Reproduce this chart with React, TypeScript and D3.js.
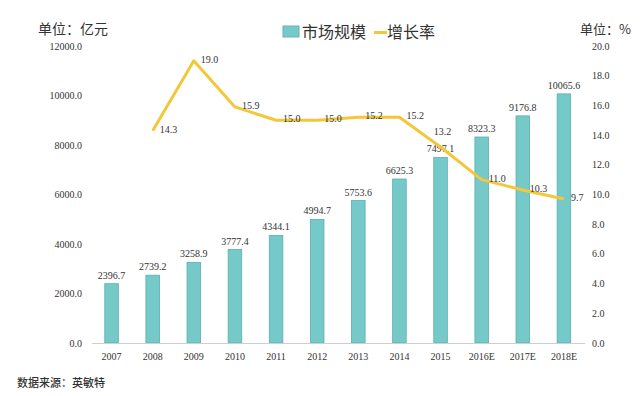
import React from "react";
import * as d3 from "d3";

const categories = ["2007", "2008", "2009", "2010", "2011", "2012", "2013", "2014", "2015", "2016E", "2017E", "2018E"];
const marketSize = [2396.7, 2739.2, 3258.9, 3777.4, 4344.1, 4994.7, 5753.6, 6625.3, 7497.1, 8323.3, 9176.8, 10065.6];
const growthRate: (number | null)[] = [null, 14.3, 19.0, 15.9, 15.0, 15.0, 15.2, 15.2, 13.2, 11.0, 10.3, 9.7];
const leftTicks = [0, 2000, 4000, 6000, 8000, 10000, 12000];
const rightTicks = [0, 2, 4, 6, 8, 10, 12, 14, 16, 18, 20];

const W = 640, H = 396;
const serif = "Liberation Serif, DejaVu Serif, serif";
const cjk = "Noto Sans CJK SC, sans-serif";

export default function App() {
  const x = d3.scaleBand<string>().domain(categories).range([91, 584.5]).paddingInner(0.67).paddingOuter(0.335);
  const yL = d3.scaleLinear().domain([0, 12000]).range([343, 46]);
  const yR = d3.scaleLinear().domain([0, 20]).range([343, 46]);
  const cx = (c: string) => (x(c) as number) + x.bandwidth() / 2;
  const pts = categories.map((c, i) => ({ c, v: growthRate[i] })).filter(d => d.v != null) as { c: string; v: number }[];
  const line = d3.line<{ c: string; v: number }>().x(d => cx(d.c)).y(d => yR(d.v));

  return (
    <svg width={W} height={H} style={{ position: "absolute", left: 0, top: 0, background: "#fff" }}>
      <rect width={W} height={H} fill="#fff" />
      <text x={38} y={34} fontFamily={cjk} fontSize={14} fill="#333">单位：亿元</text>
      <text x={580} y={34} fontFamily={cjk} fontSize={13} fill="#333">单位：%</text>
      {/* legend */}
      <rect x={283} y={26} width={16} height={11} fill="#76c9c9" stroke="#66b6b6" />
      <text x={302} y={38} fontFamily={cjk} fontSize={16} fill="#333">市场规模</text>
      <line x1={374} x2={387} y1={32.5} y2={32.5} stroke="#f2c73a" strokeWidth={3} />
      <text x={387} y={38} fontFamily={cjk} fontSize={16} fill="#333">增长率</text>
      {/* left ticks */}
      {leftTicks.map(t => (
        <text key={"l" + t} x={82} y={yL(t) + 3.5} textAnchor="end" fontFamily={serif} fontSize={10} fill="#333">{t.toFixed(1)}</text>
      ))}
      {rightTicks.map(t => (
        <text key={"r" + t} x={592} y={yR(t) + 3.5} textAnchor="start" fontFamily={serif} fontSize={10} fill="#333">{t.toFixed(1)}</text>
      ))}
      {/* bars */}
      {categories.map((c, i) => (
        <rect key={"b" + c} x={x(c) as number} y={yL(marketSize[i])} width={x.bandwidth()} height={yL(0) - yL(marketSize[i])}
          fill="#76c9c9" stroke="#5aafaf" strokeWidth={0.8} />
      ))}
      <line x1={92} x2={585} y1={343.5} y2={343.5} stroke="#cfcfcf" strokeWidth={1} />
      {categories.map((c, i) => (
        <text key={"bl" + c} x={cx(c)} y={yL(marketSize[i]) - 5} textAnchor="middle" fontFamily={serif} fontSize={10} fill="#333">{marketSize[i].toFixed(1)}</text>
      ))}
      {categories.map(c => (
        <text key={"x" + c} x={cx(c)} y={360} textAnchor="middle" fontFamily={serif} fontSize={10} fill="#333">{c}</text>
      ))}
      {/* line */}
      <path d={line(pts) || ""} fill="none" stroke="#f2c73a" strokeWidth={3} strokeLinejoin="round" />
      {pts.map(d => {
        const above = d.v === 13.2;
        return (
          <text key={"g" + d.c} x={above ? cx(d.c) + 2 : cx(d.c) + 7} y={above ? yR(d.v) - 12 : yR(d.v) + 2}
            textAnchor={above ? "middle" : "start"} fontFamily={serif} fontSize={10} fill="#333">{d.v.toFixed(1)}</text>
        );
      })}
      <text x={17} y={387} fontFamily={cjk} fontSize={11} fontWeight={500} fill="#333">数据来源：英敏特</text>
    </svg>
  );
}
